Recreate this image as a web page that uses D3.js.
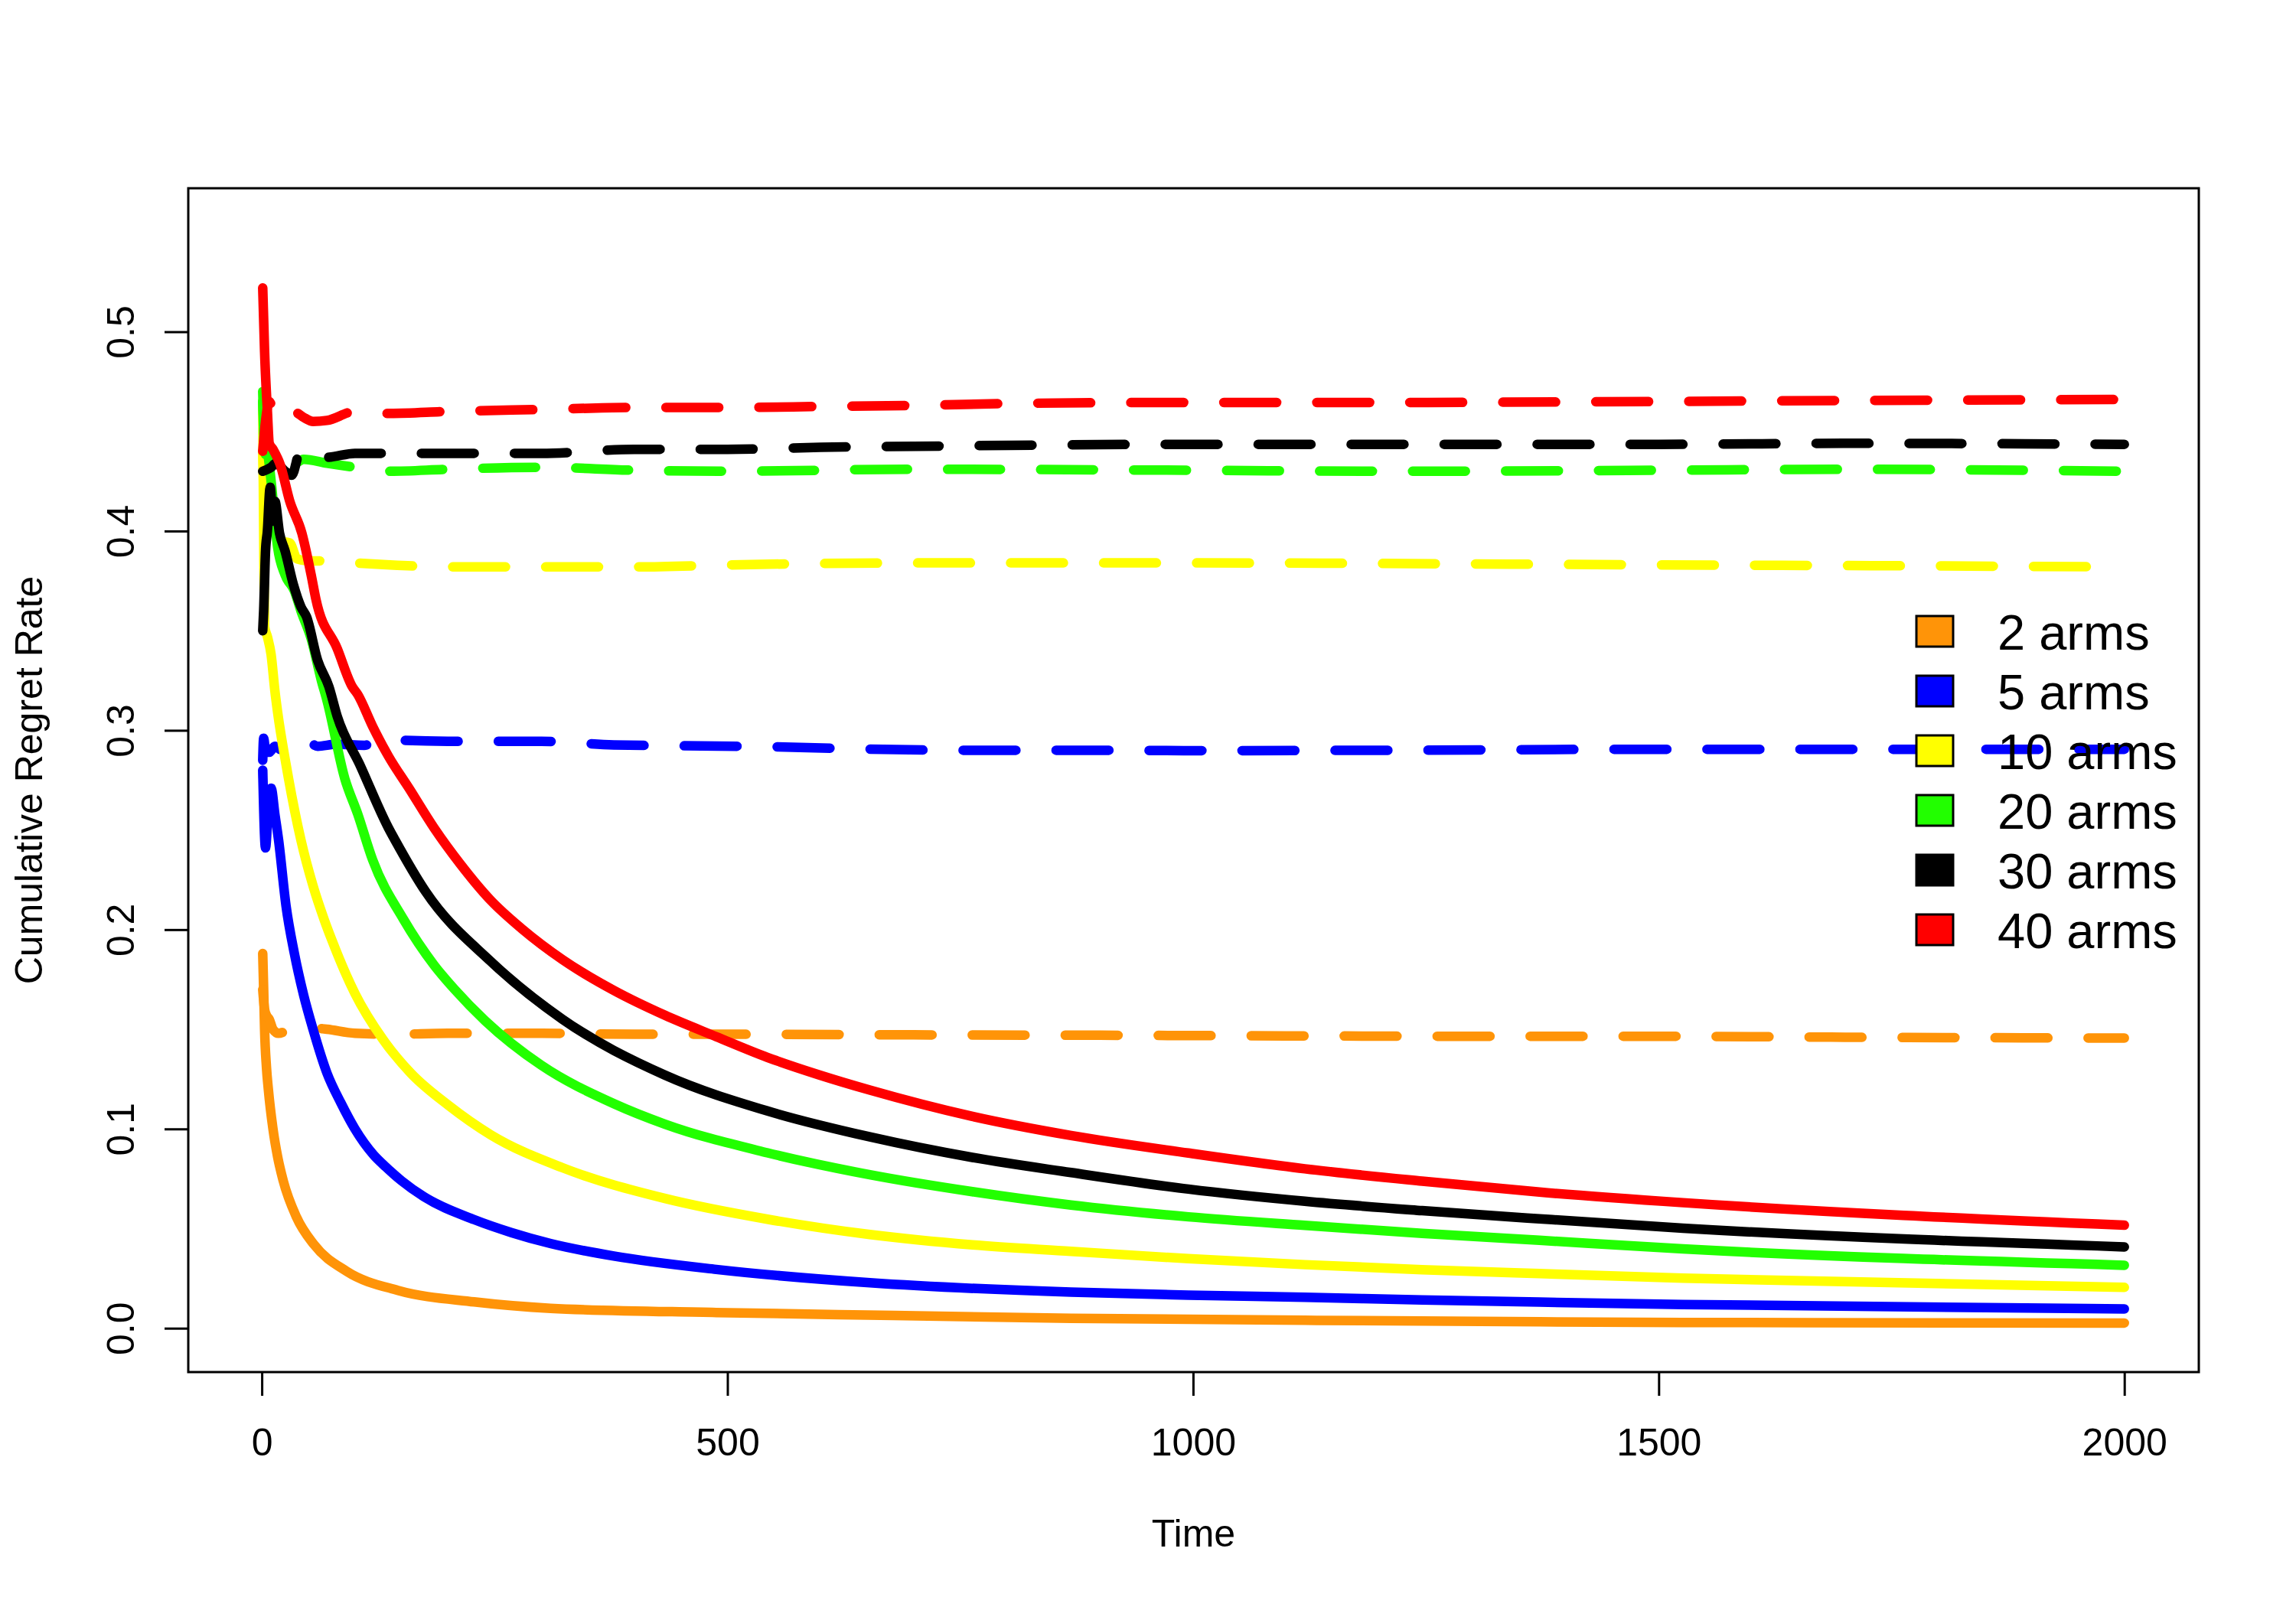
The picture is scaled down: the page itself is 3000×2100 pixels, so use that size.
<!DOCTYPE html>
<html>
<head>
<meta charset="utf-8">
<script src="https://cdn.jsdelivr.net/npm/d3@7"></script>
<style>
    body { margin: 0; background: #fff; }
    svg text { font-family: "Liberation Sans", Arial, Helvetica, sans-serif; }
</style>
</head>
<body>
<div id="chart"></div>
<script>
const armLabels = ["2 arms", "5 arms", "10 arms", "20 arms", "30 arms", "40 arms"];
const armColors = ["#FF9408", "#0000FF", "#FFFF00", "#22FF00", "#000000", "#FF0000"];
const xTicks = [0, 500, 1000, 1500, 2000];
const yTicks = [0, 0.1, 0.2, 0.3, 0.4, 0.5];
const xTitle = "Time";
const yTitle = "Cumulative Regret Rate";

// [time, cumulative regret rate], solid = learning policy
const solid2 = [[1, 0.188], [2, 0.170], [3, 0.150], [5, 0.131], [7, 0.120], [12, 0.100], [17, 0.086], [23, 0.074],
    [37, 0.056], [56, 0.042], [91, 0.0286], [146, 0.019], [228, 0.0132], [310, 0.0100], [488, 0.0079],
    [650, 0.0066], [869, 0.0050], [1120, 0.0040], [1372, 0.0032], [1526, 0.0029], [2000, 0.0026]];
const solid5 = [[1, 0.280], [4, 0.241], [7, 0.262], [10, 0.271], [14, 0.258], [18, 0.245], [26, 0.212], [35, 0.188],
    [45, 0.167], [55, 0.150], [70, 0.128], [85, 0.113], [100, 0.100], [120, 0.087], [133, 0.081], [150, 0.074],
    [174, 0.066], [228, 0.0545], [268, 0.048], [310, 0.0425], [378, 0.0362], [488, 0.0295], [653, 0.0228],
    [869, 0.0181], [995, 0.0166], [1120, 0.0155], [1246, 0.0142], [1372, 0.0131], [1526, 0.0119], [2000, 0.0097]];
const solid10 = [[1, 0.465], [2, 0.400], [3, 0.352], [6, 0.347], [10, 0.338], [14, 0.320], [17, 0.309], [26, 0.283],
    [42, 0.245], [55, 0.222], [67, 0.205], [75, 0.195], [100, 0.168], [130, 0.145], [160, 0.128], [200, 0.112],
    [246, 0.097], [323, 0.0805], [433, 0.0651], [543, 0.0547], [653, 0.047], [763, 0.0418],
    [869, 0.0386], [995, 0.0349], [1120, 0.0319], [1246, 0.0294], [1372, 0.0274], [1526, 0.0251], [2000, 0.0205]];
const solid20 = [[1, 0.470], [3, 0.445], [7, 0.437], [10, 0.425], [17, 0.392], [25, 0.378], [35, 0.370], [42, 0.360],
    [53, 0.346], [64, 0.325], [70, 0.315], [89, 0.276], [103, 0.258], [119, 0.235], [152, 0.2053], [185, 0.1822],
    [207, 0.170], [240, 0.1542], [300, 0.132], [378, 0.1127], [433, 0.1024], [543, 0.088], [653, 0.077],
    [763, 0.0685], [869, 0.0618], [995, 0.0559], [1120, 0.0516], [1246, 0.0476], [1372, 0.0441], [1526, 0.0398],
    [2000, 0.0316]];
const solid30 = [[1, 0.350], [2, 0.360], [4, 0.390], [6, 0.400], [9, 0.422], [12, 0.405], [14, 0.415], [19, 0.399],
    [25, 0.390], [34, 0.373], [42, 0.362], [48, 0.357], [60, 0.335], [72, 0.322], [81, 0.307], [105, 0.283],
    [136, 0.251], [143, 0.245], [176, 0.219], [246, 0.184], [323, 0.155], [433, 0.127],
    [543, 0.109], [653, 0.096], [763, 0.0857], [869, 0.0781], [995, 0.0698], [1120, 0.0637], [1246, 0.059],
    [1372, 0.0549], [1526, 0.0502], [2000, 0.0408]];
const solid40 = [[1, 0.522], [3, 0.490], [6, 0.460], [8, 0.444], [12, 0.441], [20, 0.433], [30, 0.415], [43, 0.399],
    [53, 0.378], [58, 0.366], [81, 0.341], [97, 0.322], [103, 0.318], [119, 0.302], [136, 0.287], [158, 0.271],
    [185, 0.251], [213, 0.233], [246, 0.2146], [279, 0.2005], [323, 0.1849], [378, 0.1695], [433, 0.1570],
    [488, 0.1463], [543, 0.1359], [598, 0.1272], [653, 0.1195], [763, 0.1063], [869, 0.0967], [995, 0.0879],
    [1120, 0.0800], [1246, 0.0738], [1372, 0.0683], [1526, 0.0630], [2000, 0.0517]];

// dashed = random policy
const dashed2 = [[1, 0.170], [3, 0.160], [5, 0.157], [8, 0.155], [12, 0.150], [18, 0.148], [30, 0.150], [45, 0.151],
    [70, 0.150], [100, 0.148], [141, 0.1475], [200, 0.148], [300, 0.148], [400, 0.1475], [500, 0.1475],
    [700, 0.1472], [900, 0.147], [1100, 0.1467], [1300, 0.1465], [1500, 0.1465], [1700, 0.146], [2000, 0.1456]];
const dashed5 = [[1, 0.285], [2, 0.296], [4, 0.290], [8, 0.289], [14, 0.292], [22, 0.290], [30, 0.293], [40, 0.291],
    [50, 0.294], [60, 0.292], [80, 0.293], [110, 0.2925], [130, 0.296], [150, 0.295], [200, 0.2945], [300, 0.2945],
    [378, 0.2927], [543, 0.2918], [650, 0.2906], [750, 0.2900], [900, 0.2900], [1000, 0.2898], [1200, 0.2900],
    [1500, 0.2905], [1800, 0.2905], [2000, 0.2905]];
const dashed10 = [[1, 0.440], [3, 0.410], [8, 0.400], [20, 0.395], [30, 0.394], [38, 0.386], [50, 0.385], [70, 0.385],
    [100, 0.384], [138, 0.383], [200, 0.382], [300, 0.382], [400, 0.382], [500, 0.383], [700, 0.384], [1000, 0.384],
    [1300, 0.3835], [1500, 0.383], [1800, 0.3825], [2000, 0.382]];
const dashed20 = [[1, 0.465], [3, 0.440], [8, 0.435], [20, 0.433], [30, 0.432], [45, 0.436], [70, 0.434], [100, 0.432],
    [138, 0.430], [200, 0.431], [300, 0.432], [400, 0.4305], [500, 0.430], [700, 0.431], [1000, 0.4305],
    [1200, 0.430], [1500, 0.4305], [1700, 0.431], [2000, 0.430]];
const dashed30 = [[1, 0.430], [10, 0.432], [15, 0.434], [25, 0.430], [32, 0.428], [42, 0.441], [55, 0.440], [70, 0.437],
    [100, 0.439], [200, 0.439], [300, 0.439], [400, 0.441], [500, 0.441], [600, 0.442], [700, 0.4425], [800, 0.443],
    [1000, 0.4435], [1200, 0.4435], [1500, 0.4435], [1700, 0.444], [2000, 0.4435]];
const dashed40 = [[1, 0.440], [4, 0.455], [8, 0.465], [12, 0.462], [20, 0.464], [25, 0.458], [35, 0.4597], [45, 0.457],
    [55, 0.455], [70, 0.4555], [100, 0.460], [138, 0.459], [200, 0.460], [300, 0.461], [400, 0.462], [500, 0.462],
    [600, 0.4625], [700, 0.463], [800, 0.464], [1000, 0.4645], [1200, 0.4645], [1500, 0.465], [1700, 0.4655],
    [2000, 0.466]];

const solidSeries = [solid2, solid5, solid10, solid20, solid30, solid40];
const dashedSeries = [dashed2, dashed5, dashed10, dashed20, dashed30, dashed40];

function init() {
    let margin = { top: 246, right: 127, bottom: 307, left: 246 },
        width = 3000 - margin.left - margin.right,
        height = 2100 - margin.top - margin.bottom;

    let svg = d3.select("#chart")
        .append("svg")
        .attr("width", width + margin.left + margin.right)
        .attr("height", height + margin.top + margin.bottom);
    let g = svg.append("g")
        .attr("transform", "translate(" + margin.left + "," + margin.top + ")");

    // R pads each axis range by 4%
    let tExtent = d3.extent(solidSeries.flat(), d => d[0]);
    let xPad = (tExtent[1] - tExtent[0]) * 0.04;
    let x = d3.scaleLinear()
        .domain([tExtent[0] - xPad, tExtent[1] + xPad])
        .range([0, width]);
    let yLim = [0, 0.55];
    let yPad = (yLim[1] - yLim[0]) * 0.04;
    let y = d3.scaleLinear()
        .domain([yLim[0] - yPad, yLim[1] + yPad])
        .range([height, 0]);

    let line = d3.line()
        .x(d => x(d[0]))
        .y(d => y(d[1]))
        .curve(d3.curveMonotoneX);

    armColors.forEach(function (col, i) {
        g.append("path")
            .datum(solidSeries[i])
            .attr("d", line)
            .attr("fill", "none")
            .attr("stroke", col)
            .attr("stroke-width", 12.5)
            .attr("stroke-linecap", "round")
            .attr("stroke-linejoin", "round");
        g.append("path")
            .datum(dashedSeries[i])
            .attr("d", line)
            .attr("fill", "none")
            .attr("stroke", col)
            .attr("stroke-width", 12.5)
            .attr("stroke-linecap", "round")
            .attr("stroke-linejoin", "round")
            .attr("stroke-dasharray", "69,52.5");
    });

    // axes
    let xAxis = g.append("g")
        .attr("transform", "translate(0," + height + ")")
        .call(d3.axisBottom(x).tickValues(xTicks).tickSize(31).tickFormat(d3.format("d")));
    xAxis.select(".domain").remove();
    xAxis.selectAll("line").attr("stroke", "#000").attr("stroke-width", 3);
    xAxis.selectAll("text")
        .attr("y", 109)
        .attr("dy", null)
        .attr("font-size", 50)
        .attr("fill", "#000");

    let yAxis = g.append("g")
        .call(d3.axisLeft(y).tickValues(yTicks).tickSize(31).tickFormat(d3.format(".1f")));
    yAxis.select(".domain").remove();
    yAxis.selectAll("line").attr("stroke", "#000").attr("stroke-width", 3);
    yAxis.selectAll("text")
        .attr("x", null)
        .attr("dy", null)
        .attr("transform", "translate(-71,0) rotate(-90)")
        .attr("text-anchor", "middle")
        .attr("font-size", 50)
        .attr("fill", "#000");

    g.append("rect")
        .attr("width", width)
        .attr("height", height)
        .attr("fill", "none")
        .attr("stroke", "#000")
        .attr("stroke-width", 3);

    svg.append("text")
        .attr("x", margin.left + width / 2)
        .attr("y", 2021)
        .attr("text-anchor", "middle")
        .attr("font-size", 50)
        .text(xTitle);
    svg.append("text")
        .attr("transform", "translate(55," + (margin.top + height / 2) + ") rotate(-90)")
        .attr("text-anchor", "middle")
        .attr("font-size", 50)
        .text(yTitle);

    // legend, drawn over the lines like R does
    let legend = svg.append("g").attr("transform", "translate(2504,805)");
    legend.selectAll("rect")
        .data(armLabels)
        .join("rect")
        .attr("x", 0)
        .attr("y", (d, i) => i * 78)
        .attr("width", 48)
        .attr("height", 40)
        .attr("fill", (d, i) => armColors[i])
        .attr("stroke", "#000")
        .attr("stroke-width", 3);
    legend.selectAll("text")
        .data(armLabels)
        .join("text")
        .attr("x", 106)
        .attr("y", (d, i) => i * 78 + 44)
        .attr("font-size", 65)
        .text(d => d);
}

window.addEventListener('load', init);
</script>
</body>
</html>
